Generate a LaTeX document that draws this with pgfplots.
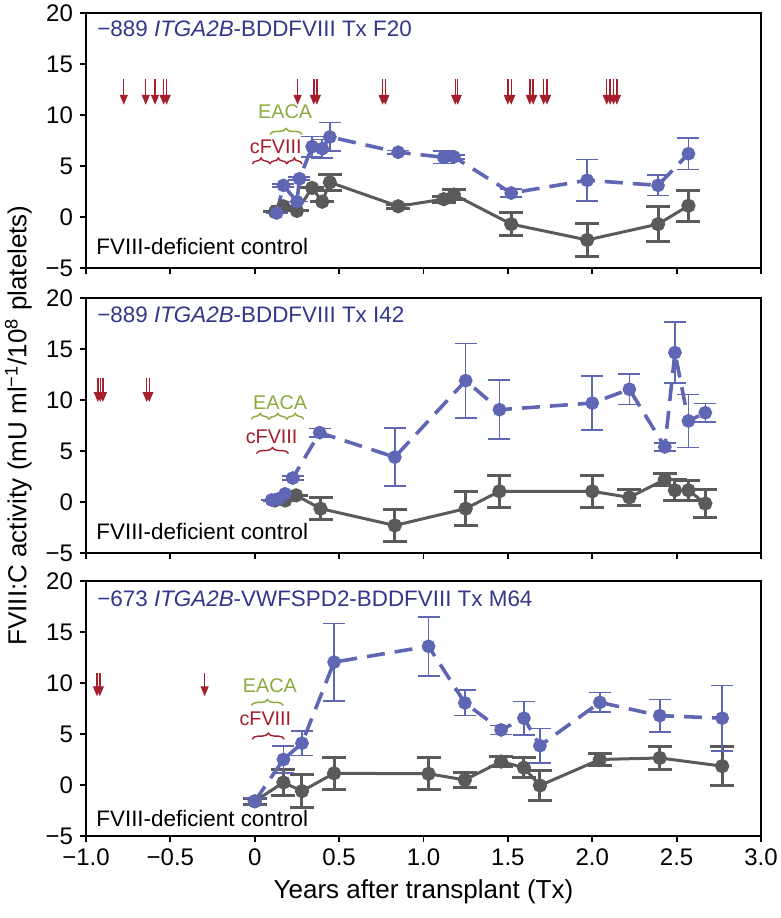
\documentclass[border=0pt]{standalone}
\usepackage{fontspec}
\setmainfont{Liberation Sans}
\usepackage{pgfplots}
\usepackage{pgfplotstable}
\pgfplotsset{compat=1.18}
\usetikzlibrary{arrows.meta,decorations.pathreplacing}

\definecolor{fblue}{HTML}{5F66B3}
\definecolor{ftitle}{HTML}{33368A}
\definecolor{fgrey}{HTML}{5A5A5A}
\definecolor{fred}{HTML}{A51E2C}
\definecolor{fgreen}{HTML}{8CAA3C}

% Panel 1: F20
\pgfplotstableread{
x y e
0.13 0.4 0
0.17 3.1 0.15
0.25 1.5 0
0.265 3.75 0.15
0.34 6.9 1.0
0.40 6.7 0.9
0.445 7.85 1.4
0.85 6.35 0.15
1.12 5.85 0.6
1.18 5.9 0.2
1.52 2.35 0.4
1.97 3.6 2.05
2.39 3.1 1.0
2.57 6.2 1.55
}\blueA
\pgfplotstableread{
x y e
0.12 0.5 0
0.17 1.05 0
0.25 0.6 0
0.34 2.85 0
0.40 1.5 0
0.445 3.4 0.8
0.85 1.05 0.2
1.12 1.75 0.3
1.18 2.2 0.5
1.52 -0.7 1.1
1.97 -2.25 1.6
2.39 -0.7 1.7
2.57 1.1 1.5
}\greyA
% Panel 2: I42
\pgfplotstableread{
x y e
0.10 0.2 0
0.14 0.3 0
0.18 0.8 0
0.225 2.35 0.2
0.385 6.8 0.4
0.83 4.4 2.85
1.25 11.9 3.65
1.45 9.05 2.9
2.00 9.7 2.65
2.22 11.05 1.5
2.43 5.4 0.4
2.49 14.65 3.0
2.57 7.95 2.6
2.67 8.75 0.9
}\blueB
\pgfplotstableread{
x y e
0.12 0.15 0
0.18 0.15 0
0.245 0.65 0
0.39 -0.65 1.1
0.83 -2.3 1.55
1.25 -0.65 1.7
1.45 1.05 1.55
2.00 1.05 1.55
2.22 0.45 0.75
2.43 2.2 0.6
2.49 1.15 1.05
2.57 1.15 1.0
2.67 -0.15 1.4
}\greyB
% Panel 3: M64
\pgfplotstableread{
x y e
0.0 -1.6 0.3
0.17 2.5 1.3
0.28 4.1 1.2
0.47 12.05 3.8
1.03 13.6 2.9
1.245 8.05 1.25
1.46 5.4 0.45
1.595 6.55 1.65
1.69 3.85 1.7
2.045 8.1 0.95
2.40 6.8 1.6
2.77 6.55 3.2
}\blueC
\pgfplotstableread{
x y e
0.0 -1.6 0.3
0.17 0.25 1.25
0.28 -0.6 1.65
0.47 1.15 1.55
1.03 1.1 1.55
1.245 0.5 0.75
1.46 2.3 0.5
1.595 1.7 0.95
1.69 -0.05 1.45
2.045 2.5 0.6
2.40 2.65 1.1
2.77 1.85 1.9
}\greyC

\pgfplotsset{
  panel/.style={
    width=337.5pt, height=127.5pt, scale only axis,
    xmin=-1, xmax=3, ymin=-5, ymax=20,
    xtick={-1,-0.5,0,0.5,1,1.5,2,2.5,3},
    ytick={-5,0,5,10,15,20},
    yticklabels={−5,0,5,10,15,20},
    tick align=outside, tick pos=left,
    major tick length=3pt,
    axis line style={line width=0.9pt},
    every tick/.style={black, line width=0.9pt},
    tick label style={font=\fontsize{12}{14}\selectfont},
  },
  greyline/.style={fgrey, line width=1.5pt, mark=*, mark size=2.8pt,
    error bars/.cd, y dir=both, y explicit,
    error bar style={line width=1.5pt, fgrey},
    error mark options={rotate=90, mark size=6pt, line width=1.5pt, fgrey}},
  blueline/.style={fblue, line width=1.8pt, dash pattern=on 9pt off 5pt,
    mark=*, mark size=2.5pt, mark options={solid},
    error bars/.cd, y dir=both, y explicit,
    error bar style={line width=0.8pt, solid, fblue},
    error mark options={rotate=90, mark size=5.5pt, line width=0.8pt, solid, fblue}},
  redarrows/.style={fred, line width=0.7pt, -{Triangle[length=5pt,width=4pt]}},
}
\tikzset{
  brc/.style={decorate, decoration={brace, amplitude=3pt}, line width=0.7pt},
  ptitle/.style={anchor=base west, inner sep=0, font=\fontsize{11.2}{13}\selectfont, text=ftitle},
  pctrl/.style={anchor=base west, inner sep=0, font=\fontsize{11.2}{13}\selectfont, text=black},
  annot/.style={inner sep=0, font=\fontsize{9.9}{11}\selectfont},
}

\begin{document}
\begin{tikzpicture}
\useasboundingbox (0,0) rectangle (390.5pt,459pt);

% Panel 1
\begin{axis}[panel, at={(43pt,325pt)}, xticklabels={}]
\addplot[greyline] table[x=x,y=y,y error=e] {\greyA};
\addplot[blueline] table[x=x,y=y,y error=e] {\blueA};
\addplot[redarrows, quiver={u=0,v=-2.5}] coordinates {
(-0.776,13.5) (-0.646,13.5) (-0.591,13.5) (-0.540,13.5) (-0.522,13.5)
(0.254,13.5) (0.350,13.5) (0.368,13.5) (0.758,13.5) (0.774,13.5)
(1.188,13.5) (1.203,13.5) (1.500,13.5) (1.520,13.5) (1.630,13.5) (1.650,13.5)
(1.712,13.5) (1.732,13.5) (2.086,13.5) (2.106,13.5) (2.126,13.5) (2.146,13.5)};
\draw[brc, fgreen] (axis cs:0.09,8.1) -- (axis cs:0.28,8.1);
\draw[brc, fred] (axis cs:-0.014,5.2) -- (axis cs:0.09,5.2);
\draw[brc, fred] (axis cs:0.09,5.2) -- (axis cs:0.19,5.2);
\draw[brc, fred] (axis cs:0.19,5.2) -- (axis cs:0.28,5.2);
\node[annot, text=fgreen] at (axis cs:0.18,10.3) {EACA};
\node[annot, text=fred] at (axis cs:0.125,6.9) {cFVIII};
\node[ptitle] at ([xshift=5.5pt,yshift=-12pt]rel axis cs:0,1) {−889 \textit{ITGA2B}-BDDFVIII Tx F20};
\node[pctrl] at ([xshift=5pt,yshift=6.5pt]rel axis cs:0,0) {FVIII-deficient control};
\end{axis}

% Panel 2
\begin{axis}[panel, at={(43pt,182.5pt)}, xticklabels={},
  ylabel={FVIII:C activity (mU ml\textsuperscript{−1}/10\textsuperscript{8} platelets)},
  ylabel style={font=\fontsize{13}{15}\selectfont}]
\addplot[greyline] table[x=x,y=y,y error=e] {\greyB};
\addplot[blueline] table[x=x,y=y,y error=e] {\blueB};
\addplot[redarrows, quiver={u=0,v=-2.4}] coordinates {
(-0.930,12.2) (-0.915,12.2) (-0.900,12.2) (-0.640,12.2) (-0.625,12.2)};
\draw[brc, fgreen] (axis cs:-0.02,8.1) -- (axis cs:0.085,8.1);
\draw[brc, fgreen] (axis cs:0.085,8.1) -- (axis cs:0.19,8.1);
\draw[brc, fgreen] (axis cs:0.19,8.1) -- (axis cs:0.29,8.1);
\draw[brc, fred] (axis cs:0.01,4.75) -- (axis cs:0.2,4.75);
\node[annot, text=fgreen] at (axis cs:0.15,9.75) {EACA};
\node[annot, text=fred] at (axis cs:0.1,6.35) {cFVIII};
\node[ptitle] at ([xshift=5.5pt,yshift=-12pt]rel axis cs:0,1) {−889 \textit{ITGA2B}-BDDFVIII Tx I42};
\node[pctrl] at ([xshift=5pt,yshift=6.5pt]rel axis cs:0,0) {FVIII-deficient control};
\end{axis}

% Panel 3
\begin{axis}[panel, at={(43pt,41pt)},
  xticklabels={−1.0,−0.5,0,0.5,1.0,1.5,2.0,2.5,3.0},
  xlabel={Years after transplant (Tx)},
  xlabel style={font=\fontsize{13}{15}\selectfont}]
\addplot[greyline] table[x=x,y=y,y error=e] {\greyC};
\addplot[blueline] table[x=x,y=y,y error=e] {\blueC};
\addplot[redarrows, quiver={u=0,v=-2.3}] coordinates {
(-0.935,11.0) (-0.918,11.0) (-0.297,11.0)};
\draw[brc, fgreen] (axis cs:-0.02,7.8) -- (axis cs:0.17,7.8);
\draw[brc, fred] (axis cs:-0.015,4.5) -- (axis cs:0.175,4.5);
\node[annot, text=fgreen] at (axis cs:0.09,9.7) {EACA};
\node[annot, text=fred] at (axis cs:0.063,6.45) {cFVIII};
\node[ptitle] at ([xshift=5.5pt,yshift=-12.5pt]rel axis cs:0,1) {−673 \textit{ITGA2B}-VWFSPD2-BDDFVIII Tx M64};
\node[pctrl] at ([xshift=5pt,yshift=5pt]rel axis cs:0,0) {FVIII-deficient control};
\end{axis}
\end{tikzpicture}
\end{document}
